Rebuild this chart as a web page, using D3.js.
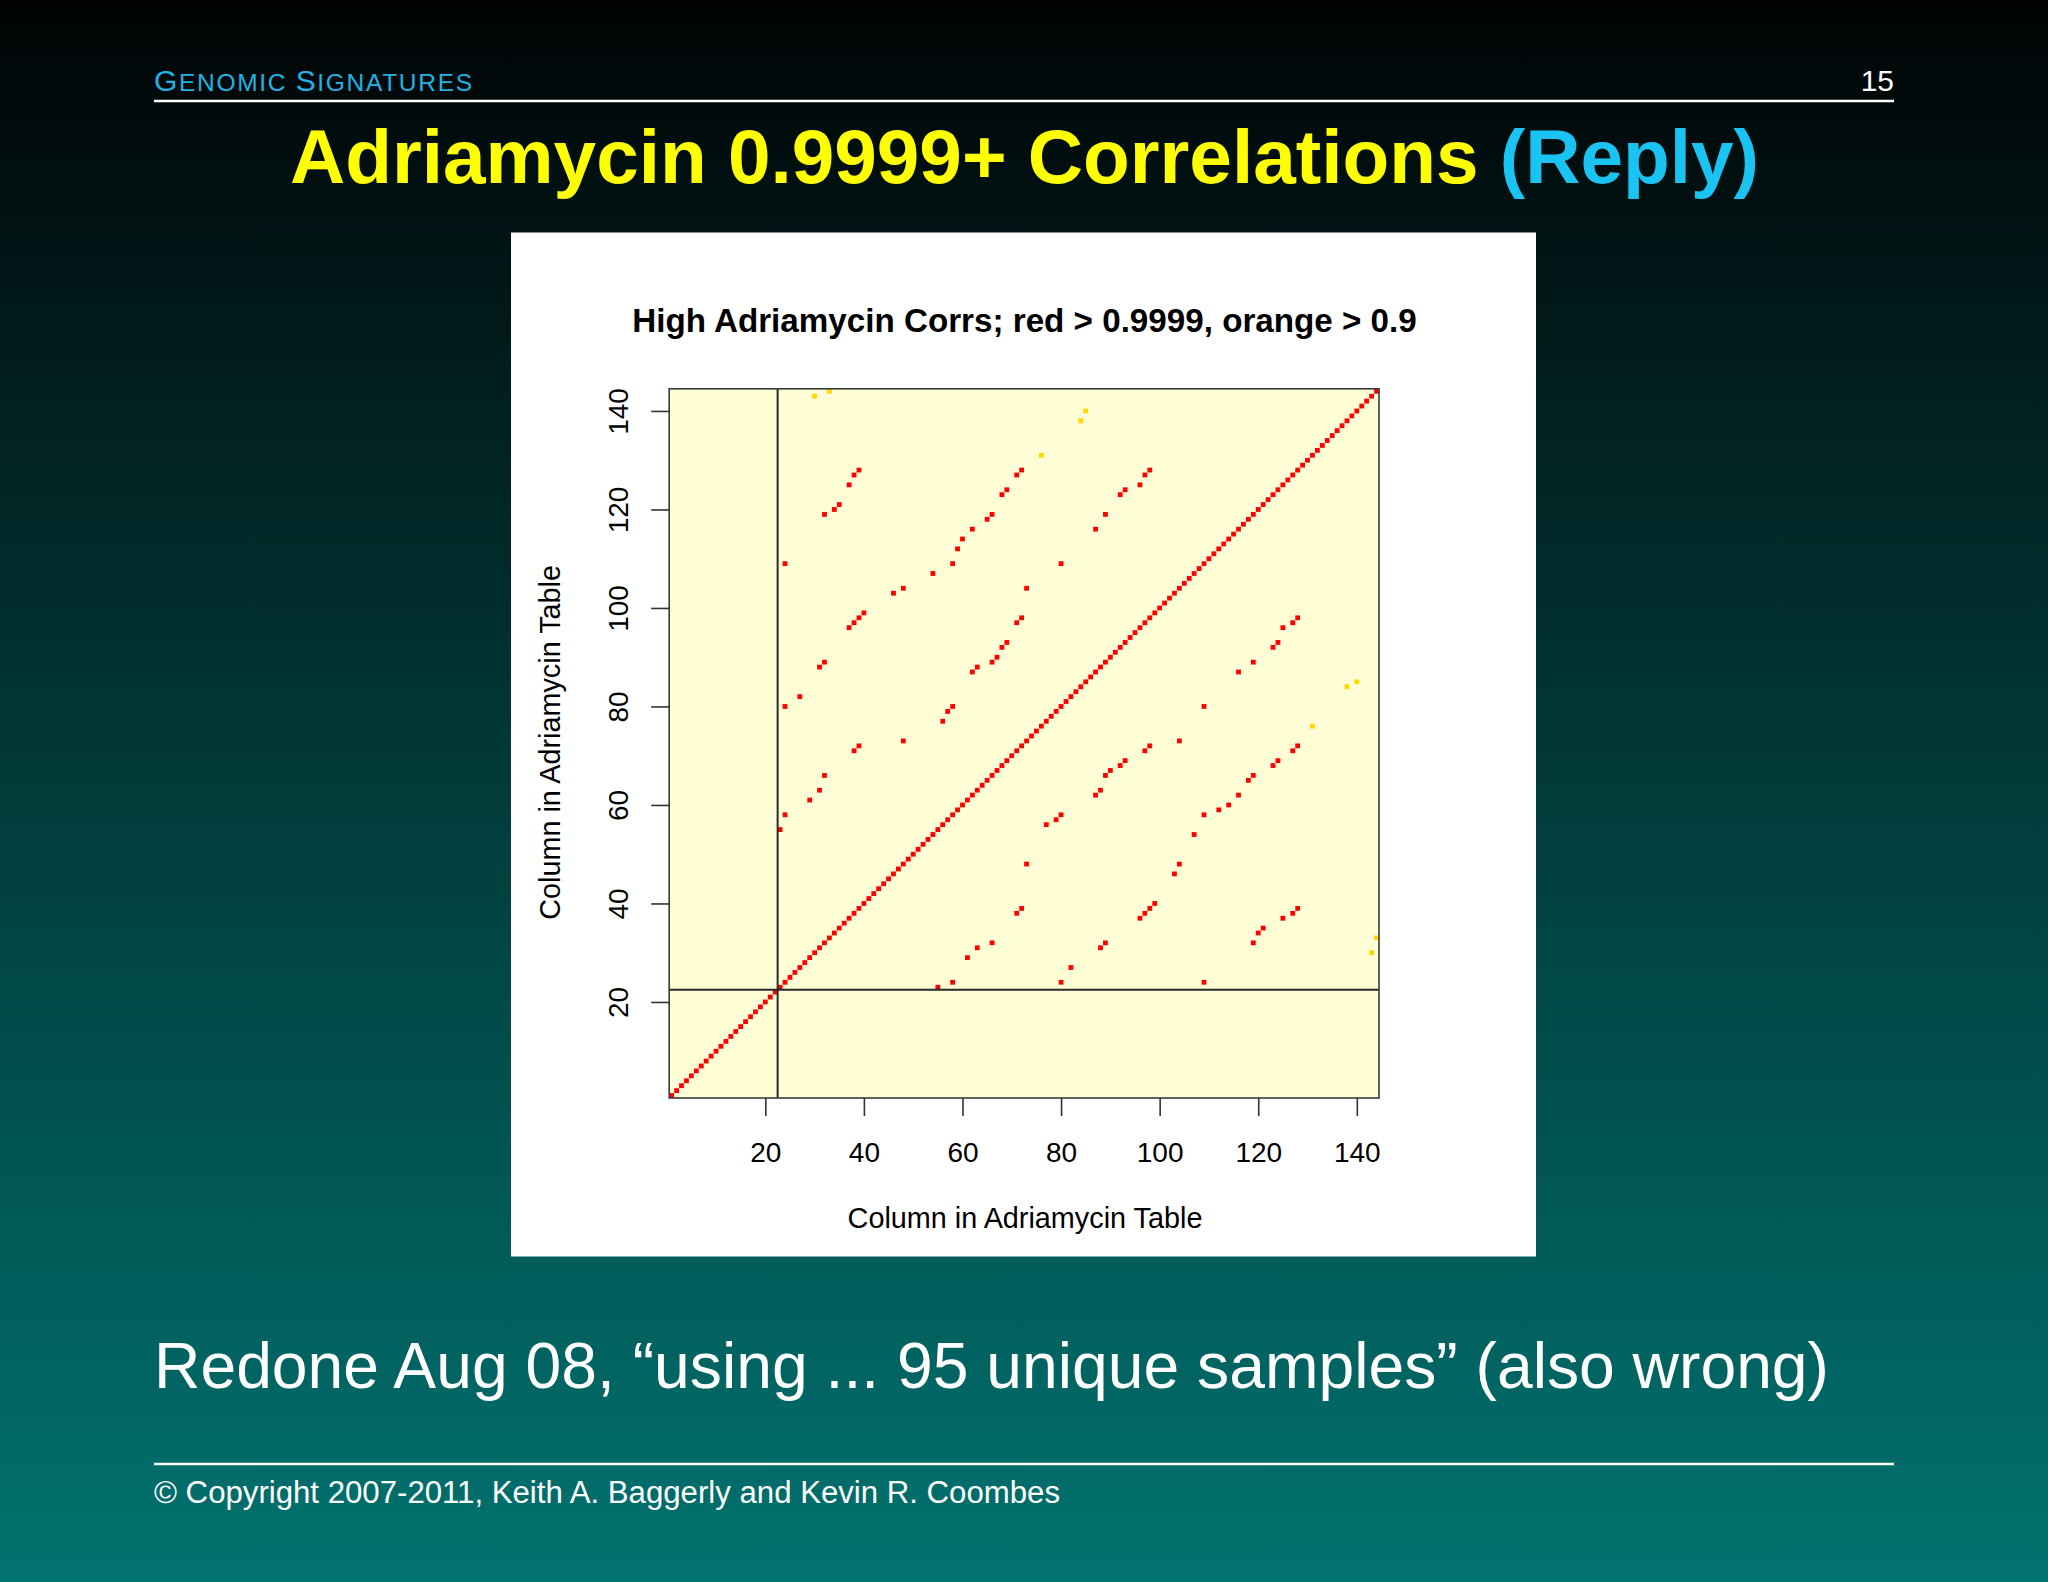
<!DOCTYPE html>
<html>
<head>
<meta charset="utf-8">
<script src="https://cdn.jsdelivr.net/npm/d3@7"></script>
<style>
  html, body { margin: 0; padding: 0; background: #000; }
  svg { display: block; }
  text { font-family: "Liberation Sans", Arial, Helvetica, sans-serif; }
</style>
</head>
<body>
<svg id="chart" width="2048" height="1582"></svg>
<script>
// ---------------- DATA ----------------
// column indices of the Adriamycin table (matrix is 144 x 144)
const columns = d3.range(1, 145);
const xTicks = [20, 40, 60, 80, 100, 120, 140];
const yTicks = [20, 40, 60, 80, 100, 120, 140];
const separatorAt = 22.5;

// red: correlation > 0.9999 (off-diagonal pairs, column in x / column in y)
const redX = [23,24,29,31,32,38,39,48, 24,27,31,32,37,38,39,40,46,48,24,32,34,35,37,38,39,
              54,58,59,60,62,65,66,68,69,71,72, 73,71,72,69,68,67,66,63,62,58,57,56,
              98,97,96,93,92,89,87,80,
              55,58,61,63,66,71,72,73, 80,82,88,89,96,97,98,99,103,104,109,119,120,121,125,127,128,
              107,109,112,114,116,118,119,123,124,127,128, 104,97,98,93,92,90,89,88,87,80,79,77,
              128,127,125,124,123,119,116,109];
const redY = [55,58,61,63,66,71,72,73, 80,82,88,89,96,97,98,99,103,104,109,119,120,121,125,127,128,
              107,109,112,114,116,118,119,123,124,127,128, 104,97,98,93,92,90,89,88,87,80,79,77,
              128,127,125,124,123,119,116,109,
              23,24,29,31,32,38,39,48, 24,27,31,32,37,38,39,40,46,48,24,32,34,35,37,38,39,
              54,58,59,60,62,65,66,68,69,71,72, 73,71,72,69,68,67,66,63,62,58,57,56,
              98,97,96,93,92,89,87,80];
// orange: correlation > 0.9
const orangeX = [30,33,76,84,85, 143,144,131,138,140];
const orangeY = [143,144,131,138,140, 30,33,76,84,85];

// ---------------- TEXT ----------------
const headerBig1 = "G", headerSmall1 = "ENOMIC ", headerBig2 = "S", headerSmall2 = "IGNATURES";
const pageNumber = "15";
const titleMain = "Adriamycin 0.9999+ Correlations ";
const titleReply = "(Reply)";
const chartTitle = "High Adriamycin Corrs; red > 0.9999, orange > 0.9";
const axisTitle = "Column in Adriamycin Table";
const bodyText = "Redone Aug 08, \u201Cusing ... 95 unique samples\u201D (also wrong)";
const footerText = "\u00A9 Copyright 2007-2011, Keith A. Baggerly and Kevin R. Coombes";

// ---------------- DRAW ----------------
const svg = d3.select("#chart");
const W = 2048, H = 1582;

const defs = svg.append("defs");
const grad = defs.append("linearGradient").attr("id", "bg")
  .attr("x1", 0).attr("y1", 0).attr("x2", 0).attr("y2", 1);
grad.append("stop").attr("offset", "0%").attr("stop-color", "#010304");
grad.append("stop").attr("offset", "100%").attr("stop-color", "#017370");
svg.append("rect").attr("width", W).attr("height", H).attr("fill", "url(#bg)");

// header
const hdr = svg.append("text").attr("x", 154).attr("y", 91).attr("fill", "#1fb4e4")
  .attr("textLength", 318).attr("lengthAdjust", "spacing");
hdr.append("tspan").attr("font-size", 30).text(headerBig1);
hdr.append("tspan").attr("font-size", 24.5).text(headerSmall1);
hdr.append("tspan").attr("font-size", 30).text(headerBig2);
hdr.append("tspan").attr("font-size", 24.5).text(headerSmall2);
svg.append("text").attr("x", 1894).attr("y", 91).attr("text-anchor", "end")
  .attr("font-size", 30).attr("fill", "#ffffff").text(pageNumber);
svg.append("line").attr("x1", 154).attr("x2", 1894).attr("y1", 101).attr("y2", 101)
  .attr("stroke", "#ffffff").attr("stroke-width", 2.5);

// slide title
const ttl = svg.append("text").attr("x", 1024.5).attr("y", 183).attr("text-anchor", "middle")
  .attr("font-size", 76.5).attr("font-weight", "bold")
  .attr("textLength", 1469).attr("lengthAdjust", "spacingAndGlyphs");
ttl.append("tspan").attr("fill", "#ffff00").text(titleMain);
ttl.append("tspan").attr("fill", "#19c3f2").text(titleReply);

// white figure panel
svg.append("rect").attr("x", 511).attr("y", 232.5).attr("width", 1025).attr("height", 1024)
  .attr("fill", "#ffffff");

// scales
const x = d3.scaleLinear().domain([0.5, 144.5]).range([669.2, 1379]);
const y = d3.scaleLinear().domain([0.5, 144.5]).range([1098, 388.8]);

// plot background
svg.append("rect").attr("x", x(0.5)).attr("y", y(144.5))
  .attr("width", x(144.5) - x(0.5)).attr("height", y(0.5) - y(144.5))
  .attr("fill", "#fffdd6");

const sq = 4.8;
const plot = svg.append("g");
// diagonal (each column with itself)
plot.selectAll("rect.diag").data(columns).join("rect").attr("class", "diag")
  .attr("x", d => x(d) - sq / 2).attr("y", d => y(d) - sq / 2)
  .attr("width", sq).attr("height", sq).attr("fill", "#ff0000");
// off diagonal red
const redPts = redX.map((v, k) => [v, redY[k]]);
plot.selectAll("rect.red").data(redPts).join("rect").attr("class", "red")
  .attr("x", d => x(d[0]) - sq / 2).attr("y", d => y(d[1]) - sq / 2)
  .attr("width", sq).attr("height", sq).attr("fill", "#ff0000");
// orange
const orPts = orangeX.map((v, k) => [v, orangeY[k]]);
plot.selectAll("rect.or").data(orPts).join("rect").attr("class", "or")
  .attr("x", d => x(d[0]) - sq / 2).attr("y", d => y(d[1]) - sq / 2)
  .attr("width", sq).attr("height", sq).attr("fill", "#ffd800");

// separator lines
svg.append("line").attr("x1", x(separatorAt)).attr("x2", x(separatorAt))
  .attr("y1", y(0.5)).attr("y2", y(144.5)).attr("stroke", "#2a2a2a").attr("stroke-width", 2);
svg.append("line").attr("x1", x(0.5)).attr("x2", x(144.5))
  .attr("y1", y(separatorAt)).attr("y2", y(separatorAt)).attr("stroke", "#2a2a2a").attr("stroke-width", 2);

// box
svg.append("rect").attr("x", x(0.5)).attr("y", y(144.5))
  .attr("width", x(144.5) - x(0.5)).attr("height", y(0.5) - y(144.5))
  .attr("fill", "none").attr("stroke", "#3a3a3a").attr("stroke-width", 1.6);

// axes
const xAxis = svg.append("g").attr("transform", `translate(0,${y(0.5)})`)
  .call(d3.axisBottom(x).tickValues(xTicks).tickSize(18).tickSizeOuter(0));
xAxis.select(".domain").remove();
xAxis.selectAll("line").attr("stroke", "#333").attr("stroke-width", 1.6);
xAxis.selectAll("text").attr("y", 64).attr("dy", null).attr("font-size", 28)
  .attr("fill", "#000").attr("font-family", "Liberation Sans, Arial, sans-serif");

const yAxis = svg.append("g").attr("transform", `translate(${x(0.5)},0)`)
  .call(d3.axisLeft(y).tickValues(yTicks).tickSize(18).tickSizeOuter(0));
yAxis.select(".domain").remove();
yAxis.selectAll("line").attr("stroke", "#333").attr("stroke-width", 1.6);
yAxis.selectAll("text").attr("transform", "rotate(-90)").attr("x", 0).attr("y", -41)
  .attr("dy", null).attr("text-anchor", "middle").attr("font-size", 28)
  .attr("fill", "#000").attr("font-family", "Liberation Sans, Arial, sans-serif");

// chart title & axis titles
svg.append("text").attr("x", 1024.5).attr("y", 332).attr("text-anchor", "middle")
  .attr("font-size", 33.2).attr("font-weight", "bold").attr("fill", "#000").text(chartTitle);
svg.append("text").attr("x", 1025).attr("y", 1228).attr("text-anchor", "middle")
  .attr("font-size", 28.8).attr("fill", "#000").text(axisTitle);
svg.append("text").attr("transform", `translate(560,${(y(0.5) + y(144.5)) / 2 - 1}) rotate(-90)`)
  .attr("text-anchor", "middle").attr("font-size", 28.8).attr("fill", "#000").text(axisTitle);

// body text
svg.append("text").attr("x", 154).attr("y", 1388).attr("font-size", 64.3)
  .attr("fill", "#ffffff").attr("textLength", 1675).attr("lengthAdjust", "spacingAndGlyphs")
  .text(bodyText);

// footer
svg.append("line").attr("x1", 154).attr("x2", 1894).attr("y1", 1464).attr("y2", 1464)
  .attr("stroke", "#ffffff").attr("stroke-width", 2.5);
svg.append("text").attr("x", 154).attr("y", 1503).attr("font-size", 31)
  .attr("fill", "#ffffff").attr("textLength", 906).attr("lengthAdjust", "spacingAndGlyphs")
  .text(footerText);
</script>
</body>
</html>
